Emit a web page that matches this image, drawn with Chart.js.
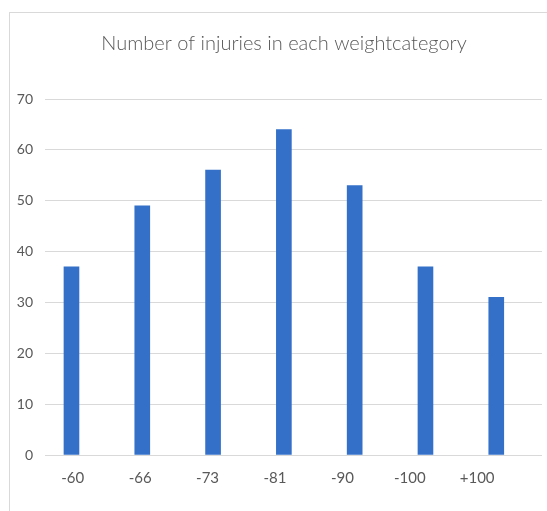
<!DOCTYPE html>
<html>
<head>
<meta charset="utf-8">
<script src="https://cdn.jsdelivr.net/npm/chart.js@4/dist/chart.umd.min.js"></script>
<style>
  html, body { margin: 0; padding: 0; background: #ffffff; }
  #wrap { position: relative; width: 547px; height: 511px; overflow: hidden; }
  #frame { position: absolute; left: 9px; top: 12px; width: 700px; height: 700px; border: 1px solid #d9d9d9; box-sizing: border-box; }
  canvas { position: absolute; left: 0; top: 0; }
</style>
</head>
<body>
<div id="wrap">
  <div id="frame"></div>
  <canvas id="c" width="547" height="511"></canvas>
</div>
<script>
const titleText = "Number of injuries in each weightcategory";
const categories = ["-60", "-66", "-73", "-81", "-90", "-100", "+100"];
const injuries = [37, 49, 56, 64, 53, 37, 31];
const yTicks = [0, 10, 20, 30, 40, 50, 60, 70];

const FONT = "Lato, 'Open Sans', sans-serif";
const GREY = '#595959';

const points = categories.map((c, i) => ({ x: i, y: injuries[i] }));

function keepCategoryTicks(scale) {
  scale.ticks = categories.map((c, i) => ({ value: i }));
}

// shift the title's box so that it is centred where the reference centres it
const titleShift = {
  id: 'titleShift',
  afterLayout(chart) {
    if (chart.titleBlock) {
      chart.titleBlock.left = 26;
      chart.titleBlock.width = chart.titleBlock.right - 26;
    }
  }
};

new Chart(document.getElementById('c'), {
  type: 'bar',
  data: {
    datasets: [{
      data: points,
      backgroundColor: '#3470c8',
      borderWidth: 0,
      barThickness: 15,
      xAxisID: 'x',
      yAxisID: 'y'
    }]
  },
  plugins: [titleShift],
  options: {
    responsive: false,
    animation: false,
    layout: { padding: { left: 0, right: 5, top: 0, bottom: 0 } },
    plugins: {
      legend: { display: false },
      tooltip: { enabled: false },
      title: {
        display: true,
        text: titleText,
        color: GREY,
        font: { family: FONT, size: 20, weight: 300 },
        padding: { top: 32, bottom: 43 }
      }
    },
    scales: {
      x: {
        type: 'linear',
        display: false,
        offset: false,
        min: -0.374,
        max: 6.646,
        afterBuildTicks: keepCategoryTicks
      },
      xl: {
        type: 'linear',
        position: 'bottom',
        offset: false,
        min: -0.412,
        max: 6.962,
        grid: { display: false, drawTicks: false },
        border: { display: false },
        afterBuildTicks: keepCategoryTicks,
        afterFit: (s) => { s.height = 56; },
        ticks: {
          color: GREY,
          font: { family: FONT, size: 15 },
          padding: 14,
          maxRotation: 0,
          autoSkip: false,
          callback: (v) => categories[v] ?? ''
        }
      },
      y: {
        min: 0,
        max: 70,
        afterBuildTicks: (s) => { s.ticks = yTicks.map(v => ({ value: v })); },
        afterFit: (s) => { s.width = 45; },
        grid: { color: '#d9d9d9', lineWidth: 1, drawTicks: false },
        border: { display: false },
        ticks: {
          color: GREY,
          font: { family: FONT, size: 14 },
          padding: 12
        }
      }
    }
  }
});
</script>
</body>
</html>
